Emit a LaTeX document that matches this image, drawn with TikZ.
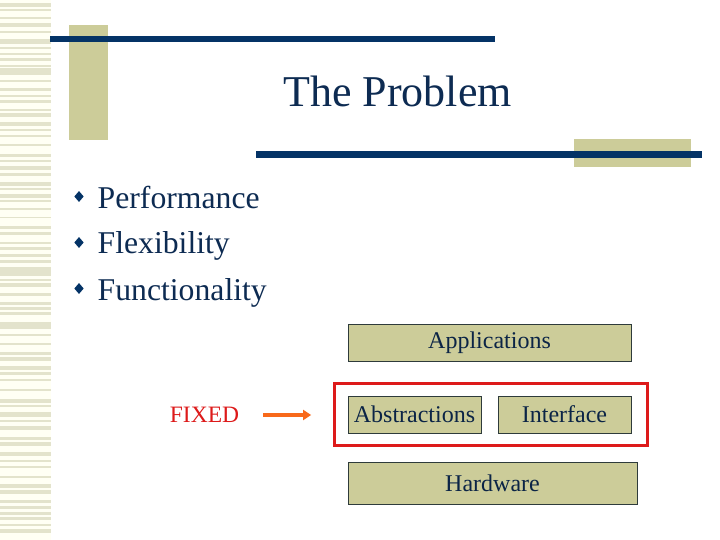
\documentclass[tikz,border=0pt]{standalone}
\usepackage{fontspec}
\setmainfont{Liberation Serif}
\usepackage{xcolor}
\definecolor{navy}{HTML}{043366}
\definecolor{ink}{HTML}{0D2B52}
\definecolor{tan}{HTML}{CCCC99}
\definecolor{stripe}{HTML}{E3E3CC}
\definecolor{cream}{HTML}{FFFFF4}
\definecolor{edge}{HTML}{2E3B3B}
\definecolor{alert}{HTML}{DD1A1A}
\definecolor{orng}{HTML}{F8691A}
\usetikzlibrary{arrows.meta,positioning,fit,shapes.geometric}
\tikzset{
  layer/.style={draw=edge,fill=tan,line width=0.8pt,inner sep=0pt,minimum height=37pt,
    font=\fontsize{24}{28}\selectfont,text=ink!85!black},
  item/.style={anchor=base west,inner sep=0pt,font=\fontsize{31.7}{38}\selectfont,text=ink},
  tick/.style={diamond,fill=navy,inner sep=0pt,minimum width=9.5pt,minimum height=11pt},
  bar/.style={fill=navy},
  pad/.style={fill=tan},
  fixarr/.style={-{Triangle[length=8pt,width=10pt]},draw=orng,line width=3.5pt},
}
\begin{document}
\begin{tikzpicture}[x=1pt,y=-1pt]
\useasboundingbox (0,0) rectangle (720,540);
\fill[white] (0,0) rectangle (720,540);
% striped margin
\fill[cream] (0,0) rectangle (51,540);
\foreach \a/\b in {3/7,9/11,17/19,23/27,31/33,39/44,47/49,53/55,58/61,65/67,68/75,80/82,
  88/91,95/97,100/103,109/111,113/117,122/126,129/131,135/137,144/146,154/157,160/162,
  166/170,173/176,182/186,188/190,194/198,200/202,208/210,217/218,226/229,232/235,
  242/244,247/250,254/257,260/263,267/270,270/276,279/281,283/287,293/296,302/305,
  307/310,312/315,322/329,334/336,343/345,352/355,357/361,366/370,372/375,379/381,
  389/391,399/403,405/407,412/417,420/422,426/430,437/440,442/446,452/456,460/462,
  466/468,476/478,484/488,490/494,500/503,506/509,512/515,517/520,524/526,529/533}
  \fill[stripe] (0,\a) rectangle (51,\b);
% title decoration
\fill[pad] (69,25) rectangle (108,140);
\fill[pad] (574,139) rectangle (691,167);
\fill[bar] (50,36) rectangle (495,42.5);
\fill[bar] (256,151) rectangle (702,158);
\node[anchor=base,inner sep=0pt,font=\fontsize{44}{50}\selectfont,text=ink] (title) at (397.5,107) {The Problem};
% bullet list
\foreach \t [count=\i] in {Performance,Flexibility,Functionality}{
  \node[item] (item\i) at (97.5,{208+46*(\i-1)}) {\t};
  \node[tick] (tick\i) at ([xshift=-18.5pt,yshift=11.5pt]item\i.base west) {};
}
% layers
\node[layer,minimum width=283pt] (app) at (489.5,342.5) {Applications};
\node[layer,minimum width=133pt] (abs) at (414.5,414.5) {Abstractions};
\node[layer,minimum width=133pt] (intf) at (564.5,414.5) {Interface};
\node[layer,minimum width=289pt,minimum height=42pt] (hw) at (492.5,483) {Hardware};
\node[draw=alert,line width=3pt,inner xsep=14.5pt,inner ysep=12pt,xshift=1.5pt,fit=(abs)(intf)] (frame) {};
\node[inner sep=0pt,font=\fontsize{23.5}{28}\selectfont,text=alert] (fixed) at (204.5,415) {FIXED};
\draw[fixarr,shorten <=24pt,shorten >=22pt] (fixed.east) -- (fixed.east -| frame.west);
\end{tikzpicture}
\end{document}
